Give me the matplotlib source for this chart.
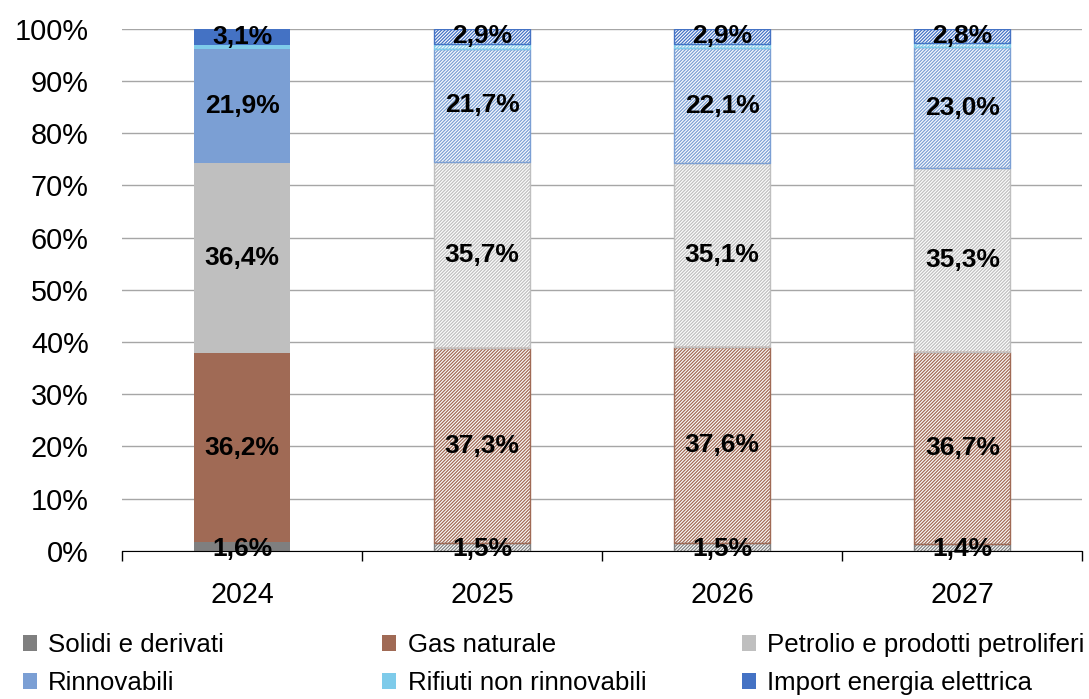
import numpy as np
import matplotlib.pyplot as plt
from matplotlib.patches import Patch

plt.rcParams['font.family'] = ['Liberation Sans', 'DejaVu Sans']
plt.rcParams['hatch.linewidth'] = 0.8

years = ['2024', '2025', '2026', '2027']
solidi = [1.6, 1.5, 1.5, 1.4]
gas = [36.2, 37.3, 37.6, 36.7]
petrolio = [36.4, 35.7, 35.1, 35.3]
rinnovabili = [21.9, 21.7, 22.1, 23.0]
rifiuti = [0.8, 0.9, 0.8, 0.8]
import_el = [3.1, 2.9, 2.9, 2.8]

series = [('Solidi e derivati', solidi, '#7f7f7f'),
          ('Gas naturale', gas, '#a06a55'),
          ('Petrolio e prodotti petroliferi', petrolio, '#bfbfbf'),
          ('Rinnovabili', rinnovabili, '#7b9fd4'),
          ('Rifiuti non rinnovabili', rifiuti, '#7ecbea'),
          ('Import energia elettrica', import_el, '#4472c4')]
labelled = ['Solidi e derivati', 'Gas naturale', 'Petrolio e prodotti petroliferi',
            'Rinnovabili', 'Import energia elettrica']

fig = plt.figure(figsize=(10.89, 6.99), dpi=100)
ax = fig.add_axes([0.112, 0.212, 0.882, 0.747])

x = np.arange(len(years))
w = 0.4
bottom = np.zeros(len(years))
for name, vals, col in series:
    vals = np.array(vals)
    # 2024 solid
    ax.bar(x[0], vals[0], w, bottom=bottom[0], color=col, edgecolor='none', zorder=2)
    # forecast years hatched
    ax.bar(x[1:], vals[1:], w, bottom=bottom[1:], color=col, edgecolor='white',
           hatch='//////////', linewidth=0, zorder=2)
    ax.bar(x[1:], vals[1:], w, bottom=bottom[1:], fill=False, edgecolor=col,
           linewidth=1, zorder=3)
    if name in labelled:
        for i in range(len(years)):
            y = bottom[i] + vals[i] / 2
            if name == 'Solidi e derivati':
                y = 0.3
            ax.text(x[i], y, ('%.1f%%' % vals[i]).replace('.', ','), ha='center',
                    va='center', fontsize=19, fontweight='bold', zorder=5)
    bottom = bottom + vals

ax.set_xlim(-0.5, 3.5)
ax.set_ylim(0, 100)
ax.set_yticks(np.arange(0, 101, 10))
ax.set_yticklabels(['%d%%' % v for v in range(0, 101, 10)], fontsize=20.8)
ax.yaxis.grid(True, color='#a6a6a6', linewidth=1, zorder=0)
ax.set_axisbelow(True)
ax.tick_params(axis='y', length=0, pad=24)
ax.set_xticks(x)
ax.set_xticklabels(years, fontsize=20.6)
ax.set_xticks(np.arange(-0.5, 3.6, 1), minor=True)
ax.tick_params(axis='x', which='major', length=0, pad=22)
ax.tick_params(axis='x', which='minor', length=7, color='black', width=1)
for s in ['top', 'right', 'left']:
    ax.spines[s].set_visible(False)
ax.spines['bottom'].set_color('black')

# legend: three columns placed by hand
xs = [0.021, 0.351, 0.681]
for c in range(3):
    hs = [Patch(facecolor=series[k][2], edgecolor='none') for k in (c, c + 3)]
    ns = [series[k][0] for k in (c, c + 3)]
    fig.legend(hs, ns, loc='center left', bbox_to_anchor=(xs[c], 0.050),
               frameon=False, fontsize=18.6, handlelength=0.55, handleheight=0.55,
               handletextpad=0.43, labelspacing=0.53, borderpad=0, borderaxespad=0)

plt.savefig('out.png', dpi=100)
